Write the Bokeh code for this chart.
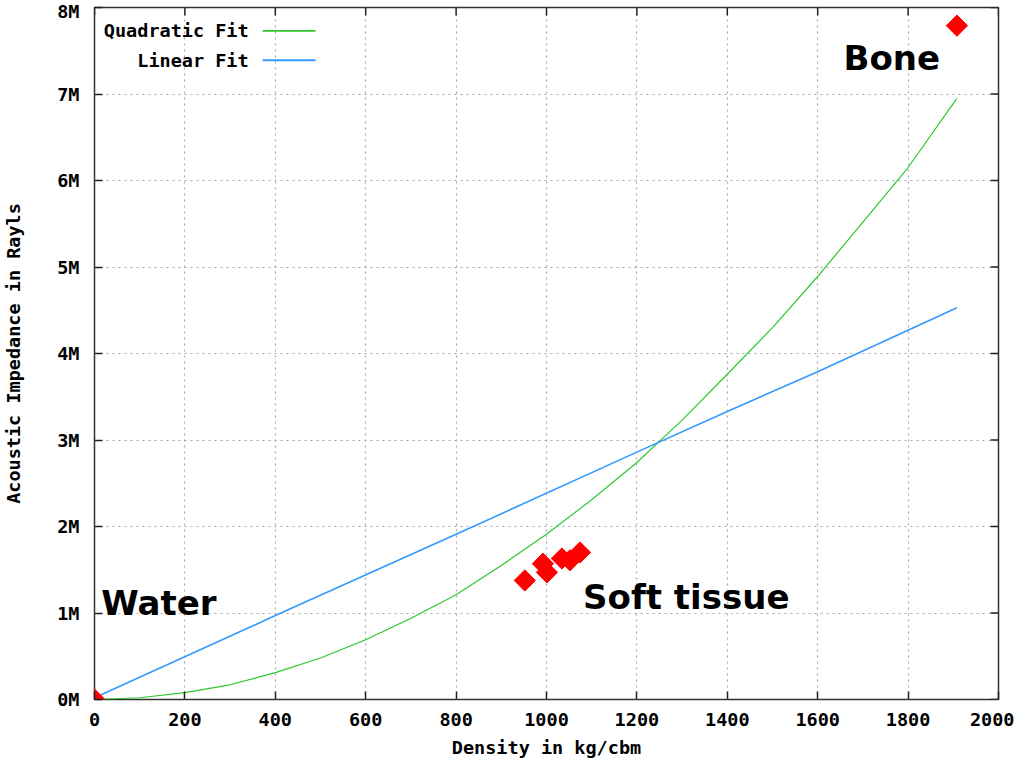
import math
from bokeh.plotting import figure
from bokeh.models import ColumnDataSource, FixedTicker, Range1d, Label
from bokeh.embed import file_html
from bokeh.resources import INLINE
from bokeh.core.properties import value

# ---- data ----
tissue_density = [0, 952, 992, 1001, 1034, 1052, 1074, 1908]
tissue_impedance = [0.0, 1.376e6, 1.57e6, 1.47e6, 1.63e6, 1.61e6, 1.70e6, 7.79e6]

quad_x = [0, 100, 200, 300, 400, 500, 600, 700, 800, 900, 1000, 1100, 1200,
          1300, 1400, 1500, 1600, 1700, 1800, 1908]
quad_y = [0.0, 0.02e6, 0.08e6, 0.17e6, 0.31e6, 0.48e6, 0.69e6, 0.94e6, 1.21e6,
          1.55e6, 1.91e6, 2.31e6, 2.74e6, 3.23e6, 3.76e6, 4.30e6, 4.89e6,
          5.52e6, 6.15e6, 6.95e6]

lin_x = [0, 400, 800, 1200, 1400, 1600, 1908]
lin_y = [0.02e6, 0.97e6, 1.91e6, 2.86e6, 3.33e6, 3.79e6, 4.53e6]

x_ticks = [0, 200, 400, 600, 800, 1000, 1200, 1400, 1600, 1800, 2000]
y_ticks = [0, 1e6, 2e6, 3e6, 4e6, 5e6, 6e6, 7e6, 8e6]
y_tick_labels = ["0M", "1M", "2M", "3M", "4M", "5M", "6M", "7M", "8M"]

series_names = ["Quadratic Fit", "Linear Fit"]
series_colors = ["#2ec82e", "#3399ff"]

annotations = ["Water", "Soft tissue", "Bone"]
annot_x = [15, 1081, 1657]
annot_y = [1.12e6, 1.18e6, 7.42e6]

MONO = "DejaVu Sans Mono"
FS = "18.5px"

W, H = 1014, 762
BL, BR, BT, BB = 91, 16, 7, 63
X0, X1, Y0, Y1 = 0, 2000, 0, 8e6

p = figure(width=W, height=H, output_backend="svg", toolbar_location=None,
           x_range=Range1d(X0, X1), y_range=Range1d(Y0, Y1),
           min_border_left=BL, min_border_right=BR, min_border_top=BT,
           min_border_bottom=BB)
p.background_fill_color = "white"
p.border_fill_color = "white"
p.outline_line_color = "#333333"
p.outline_line_width = 1.5

# grid
for g in (p.xgrid, p.ygrid):
    g.grid_line_color = "#a8a8a8"
    g.grid_line_dash = "2 4"
    g.grid_line_width = 1.2
p.xgrid.ticker = FixedTicker(ticks=x_ticks)
p.ygrid.ticker = FixedTicker(ticks=y_ticks)

xa = p.xaxis[0]
ya = p.yaxis[0]
for ax, ticks in ((xa, x_ticks), (ya, y_ticks)):
    ax.ticker = FixedTicker(ticks=ticks)
    ax.axis_line_color = None
    ax.major_tick_in = 8
    ax.major_tick_out = 0
    ax.major_tick_line_color = "#222222"
    ax.major_tick_line_width = 1.5
    ax.minor_tick_line_color = None
    ax.major_label_text_font = MONO
    ax.major_label_text_font_style = "bold"
    ax.major_label_text_color = "black"
    ax.major_label_text_font_size = FS
    ax.axis_label_text_font = MONO
    ax.axis_label_text_font_style = "bold"
    ax.axis_label_text_font_size = FS
    ax.axis_label_text_color = "black"
xa.major_label_standoff = 13
ya.major_label_standoff = 15
ya.major_label_overrides = {t: l for t, l in zip(y_ticks, y_tick_labels)}
xa.axis_label = "Density in kg/cbm"
ya.axis_label = "Acoustic Impedance in Rayls"
xa.axis_label_standoff = 8
ya.axis_label_standoff = 30

# mirrored inward ticks on top and right borders (8 px long)
frame_w = W - BL - BR
frame_h = H - BT - BB
dx = 8 * (X1 - X0) / frame_w
dy = 8 * (Y1 - Y0) / frame_h
p.segment(x0=x_ticks, y0=[Y1] * len(x_ticks), x1=x_ticks, y1=[Y1 - dy] * len(x_ticks),
          line_color="#222222", line_width=1.5)
p.segment(x0=[X1] * len(y_ticks), y0=y_ticks, x1=[X1 - dx] * len(y_ticks), y1=y_ticks,
          line_color="#222222", line_width=1.5)

# fits
p.line(quad_x, quad_y, line_color=series_colors[0], line_width=1.2)
p.line(lin_x, lin_y, line_color=series_colors[1], line_width=1.6)

# measurements
src = ColumnDataSource(dict(x=tissue_density, y=tissue_impedance))
p.scatter("x", "y", source=src, marker="square", angle=math.pi / 4, size=15,
          fill_color="#ff0000", line_color="#ff0000")

# text annotations
asrc = ColumnDataSource(dict(x=annot_x, y=annot_y, t=annotations))
p.text("x", "y", text="t", source=asrc, text_font=value("DejaVu Sans"),
       text_font_style="bold", text_font_size="34px", text_color="black",
       text_baseline="alphabetic", text_align="left")

# legend (text right-aligned, sample line to the right, as in the reference)
leg_y = [7.73e6, 7.39e6]
for name, col, w, yy in zip(series_names, series_colors, [1.6, 2], leg_y):
    p.add_layout(Label(x=341, y=yy, text=name, text_font=MONO,
                       text_font_style="bold", text_font_size=FS,
                       text_align="right", text_baseline="middle",
                       text_color="black"))
    p.line([372, 489], [yy, yy], line_color=col, line_width=w)

open("out.html", "w").write(file_html(p, INLINE))
